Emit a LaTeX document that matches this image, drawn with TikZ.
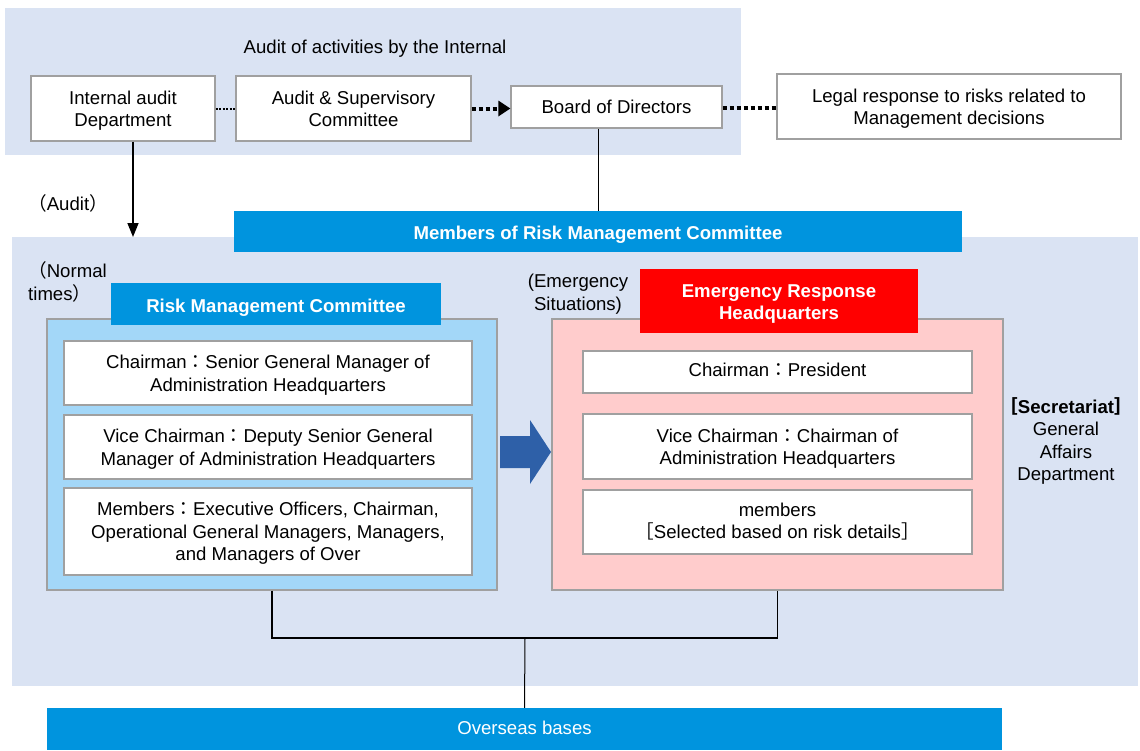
\documentclass[tikz,border=0pt]{standalone}
\usepackage{fontspec}
\setmainfont{Liberation Sans}
\newfontfamily\cjk{Noto Sans CJK JP}
\usetikzlibrary{arrows.meta}
\definecolor{bgblue}{HTML}{DAE3F3}
\definecolor{barblue}{HTML}{0094DE}
\definecolor{panelblue}{HTML}{A3D7F8}
\definecolor{panelpink}{HTML}{FFCCCC}
\definecolor{hqred}{HTML}{FF0000}
\definecolor{bigarrow}{HTML}{2E60A8}
\definecolor{boxline}{HTML}{A0A0A0}
\newcommand{\fw}[1]{{\cjk #1}}
\newcommand{\tx}[2][2.5pt]{\raisebox{-#1}[\height][\depth]{\begin{tabular}{@{}c@{}}#2\end{tabular}}}
\begin{document}
\begin{tikzpicture}[x=1pt,y=-1pt,
  every node/.style={font=\fontsize{18.6}{22.5}\selectfont, inner sep=0pt, align=center},
  wbox/.style={draw=boxline, line width=1.3pt, fill=white},
  bar/.style={fill=barblue, text=white},
  panel/.style={draw=boxline, line width=1.3pt},
  conn/.style={line width=1.2pt, black},
  thickdot/.style={line width=4pt, dash pattern=on 4pt off 3pt}
]
\useasboundingbox (0,0) rectangle (1140,750);
% backgrounds
\fill[bgblue] (5,8) rectangle (741,155);
\fill[bgblue] (12,237) rectangle (1138,686);

% top row
\node (toptitle) at (375,47) {\tx[2pt]{Audit of activities by the Internal}};
\node[wbox, minimum width=184pt, minimum height=65pt] (ia) at (123,108.5) {\tx{Internal audit\\Department}};
\node[wbox, minimum width=235pt, minimum height=65pt] (asc) at (353.5,108.5) {\tx{Audit \& Supervisory\\Committee}};
\node[wbox, minimum width=211pt, minimum height=42pt] (bod) at (616.5,107) {\tx[2pt]{Board of Directors}};
\node[wbox, minimum width=344pt, minimum height=65pt] (legal) at (949,106.5) {\tx{Legal response to risks related to\\Management decisions}};

\draw[line width=2pt, dash pattern=on 2pt off 1.5pt] (ia.east) -- (asc.east -| asc.west);
\draw[thickdot] (asc.east) -- ([xshift=-12pt]bod.west |- asc.east);
\fill (bod.west |- asc.east) -- ++(-12,-8) -- ++(0,16) -- cycle;
\draw[thickdot] (bod.east |- 0,108) -- (legal.west |- 0,108);

% audit arrow
\coordinate (auditend) at (133,237);
\draw[line width=1.5pt, -{Triangle[length=14pt,width=11pt]}] ([xshift=10pt]ia.south) -- (auditend);
\node (auditlbl) at (68,203) {\fw{（}Audit\fw{）}};

% members bar
\node[bar, minimum width=728pt, minimum height=41pt, font=\fontsize{18.6}{22.5}\selectfont\bfseries] (mem) at (598,231.5) {\tx[3.5pt]{Members of Risk Management Committee}};
\draw[line width=1pt] ([xshift=-18pt]bod.south) -- ([xshift=-18pt]bod.south |- mem.north);

% left panel
\node[panel, fill=panelblue, minimum width=450pt, minimum height=271pt] (lp) at (272,454.5) {};
\node[bar, minimum width=330pt, minimum height=42pt, font=\fontsize{18.6}{22.5}\selectfont\bfseries] (rmc) at (276,304) {\tx[3.5pt]{Risk Management Committee}};
\node[anchor=west, align=left] (normal) at (28,282) {\fw{（}Normal\\times\fw{）}};
\node[wbox, minimum width=408pt, minimum height=64pt] (l1) at (268,373) {\tx{Chairman\fw{：}Senior General Manager of\\Administration Headquarters}};
\node[wbox, minimum width=408pt, minimum height=64pt] (l2) at (268,447) {\tx{Vice Chairman\fw{：}Deputy Senior General\\Manager of Administration Headquarters}};
\node[wbox, minimum width=408pt, minimum height=87pt] (l3) at (268,531.5) {\tx[2pt]{Members\fw{：}Executive Officers, Chairman,\\Operational General Managers, Managers,\\and Managers of Over}};

% right panel
\node[panel, fill=panelpink, minimum width=451pt, minimum height=271pt] (rp) at (777.5,454.5) {};
\node[fill=hqred, text=white, minimum width=278pt, minimum height=64pt, font=\fontsize{18.6}{22.5}\selectfont\bfseries] (erh) at (779,301) {\tx[3pt]{Emergency Response\\Headquarters}};
\node (emerg) at (578,292) {\tx{(Emergency\\Situations)}};
\node[wbox, minimum width=389pt, minimum height=42pt] (r1) at (777.5,372) {\tx[0pt]{Chairman\fw{：}President}};
\node[wbox, minimum width=389pt, minimum height=65pt] (r2) at (777.5,446.5) {\tx{Vice Chairman\fw{：}Chairman of\\Administration Headquarters}};
\node[wbox, minimum width=389pt, minimum height=64pt] (r3) at (777.5,522) {\tx[1pt]{members\\\fw{［}Selected based on risk details\fw{］}}};

% big arrow
\fill[bigarrow] (500,436) -- (530,436) -- (530,420) -- (551,452) -- (530,484) -- (530,468) -- (500,468) -- cycle;

% secretariat
\node (sec) at (1066,441) {\tx[1.5pt]{\textbf{\fw{［}Secretariat\fw{］}}\\General\\Affairs\\Department}};

% bottom
\node[bar, minimum width=955pt, minimum height=42pt] (ovs) at (524.5,729) {\tx[0.5pt]{Overseas bases}};
\coordinate (junc) at (525,638);
\draw[conn] (lp.south) |- (junc) -| (rp.south);
\draw[line width=1pt] (junc) -- (ovs.north);
\end{tikzpicture}
\end{document}
